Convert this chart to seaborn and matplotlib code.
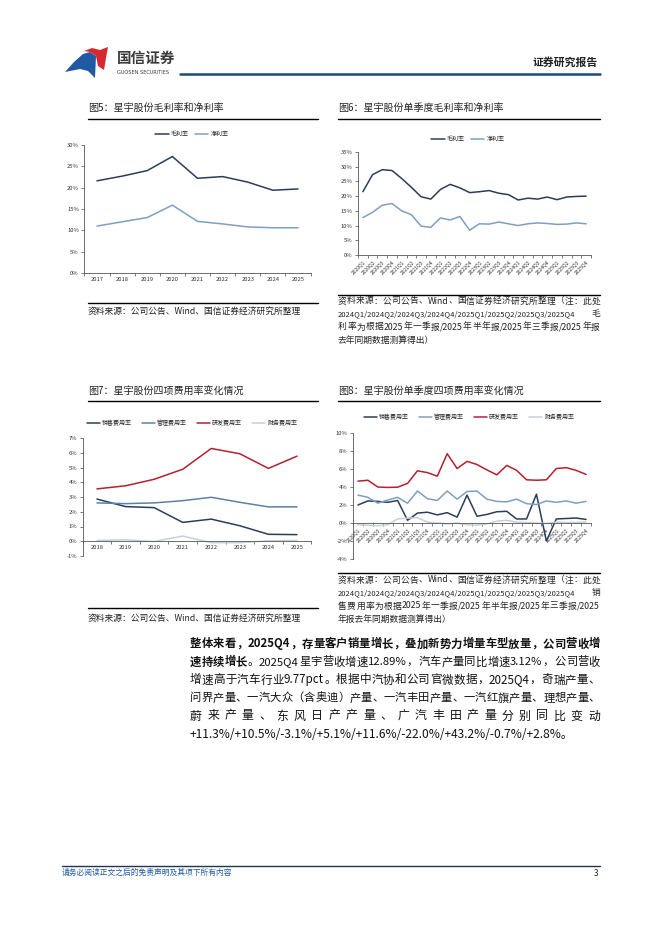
import numpy as np
import pandas as pd
import matplotlib
matplotlib.use('Agg')
import matplotlib.pyplot as plt
from matplotlib.lines import Line2D
from matplotlib.patches import Polygon
import seaborn as sns

# ---- data ----
years_a = ['2017', '2018', '2019', '2020', '2021', '2022', '2023', '2024', '2025']
gross_a = [21.6, 22.7, 24.0, 27.3, 22.2, 22.6, 21.3, 19.4, 19.7]
net_a = [11.0, 12.0, 13.0, 15.9, 12.1, 11.5, 10.8, 10.6, 10.6]

quarters = ['2020Q1', '2020Q2', '2020Q3', '2020Q4', '2021Q1', '2021Q2', '2021Q3', '2021Q4',
            '2022Q1', '2022Q2', '2022Q3', '2022Q4', '2023Q1', '2023Q2', '2023Q3', '2023Q4',
            '2024Q1', '2024Q2', '2024Q3', '2024Q4', '2025Q1', '2025Q2', '2025Q3', '2025Q4']
gross_q = [21.5, 27.3, 29.0, 28.7, 26.0, 23.0, 19.8, 19.0, 22.3, 24.0, 22.8, 21.2,
           21.5, 21.9, 21.0, 20.5, 18.7, 19.3, 19.0, 19.7, 18.8, 19.7, 19.9, 20.0]
net_q = [12.7, 14.5, 16.9, 17.5, 15.0, 13.7, 9.8, 9.4, 12.6, 11.9, 13.1, 8.4,
         10.6, 10.5, 11.2, 10.6, 10.0, 10.6, 10.9, 10.7, 10.4, 10.5, 10.9, 10.6]

years_e = ['2018', '2019', '2020', '2021', '2022', '2023', '2024', '2025']
sales_a = [2.86, 2.35, 2.28, 1.28, 1.50, 1.05, 0.47, 0.45]
admin_a = [2.60, 2.55, 2.60, 2.75, 2.98, 2.64, 2.33, 2.33]
rd_a = [3.55, 3.76, 4.20, 4.88, 6.29, 5.93, 4.94, 5.77]
fin_a = [0.05, 0.10, -0.02, 0.35, -0.10, -0.10, 0.03, 0.05]

sales_q = [2.0, 2.45, 2.4, 2.3, 2.5, 0.3, 1.1, 1.2, 0.9, 1.15, 0.65, 3.1,
           0.75, 0.95, 1.25, 1.3, 0.45, 0.45, 3.2, -2.0, 0.45, 0.5, 0.55, 0.4]
admin_q = [3.1, 2.85, 2.2, 2.55, 2.85, 2.2, 3.55, 2.7, 2.5, 3.55, 2.65, 3.5,
           3.55, 2.65, 2.4, 2.35, 2.65, 2.15, 2.05, 2.45, 2.3, 2.45, 2.2, 2.4]
rd_q = [4.65, 4.75, 4.0, 3.95, 3.98, 4.4, 5.8, 5.6, 5.2, 7.7, 6.05, 6.85,
        6.5, 5.9, 5.35, 6.4, 5.85, 4.8, 4.75, 4.8, 6.05, 6.15, 5.85, 5.4]
fin_q = [-0.2, -0.25, -0.3, -0.2, 0.45, 0.55, 0.6, 0.1, 0.0, -0.1, 0.0, -0.2,
         -0.25, -0.1, 0.2, 0.3, 0.1, 0.05, 0.0, -0.05, 0.1, 0.05, 0.05, 0.1]

NAVY = '#2c3d5b'
LIGHT = '#7f9fc2'
STEEL = '#5e80a9'
RED = '#b5202e'
GREY = '#c6d0da'

sns.set_theme(style='ticks')
plt.rcParams['font.family'] = ['Noto Sans CJK SC', 'DejaVu Sans']
plt.rcParams['axes.unicode_minus'] = False

W, H = 662, 936
fig = plt.figure(figsize=(W / 100, H / 100), dpi=100)
renderer = fig.canvas.get_renderer()


def rect(l, t, r, b):
    return [l / W, 1 - b / H, (r - l) / W, (b - t) / H]


def txt(x, y, s, **kw):
    kw.setdefault('va', 'center')
    return fig.text(x / W, 1 - y / H, s, **kw)


def hline(x0, x1, y, color='black', lw=1.0):
    fig.add_artist(Line2D([x0 / W, x1 / W], [1 - y / H] * 2,
                          transform=fig.transFigure, color=color, lw=lw))


def width_of(t):
    return t.get_window_extent(renderer).width


def fit(x0, x1, y, s, fs, **kw):
    # left aligned text scaled so that it spans x0..x1
    t = txt(x0, y, s, fontsize=fs, **kw)
    w = width_of(t)
    t.set_fontsize(fs * (x1 - x0) / w)
    return t


def justify(x0, x1, y, parts, fs, color='#111111'):
    # spread the tokens of a line evenly between x0 and x1 (CJK justified text)
    tokens = []
    for s, wt in parts:
        buf = ''
        for ch in s:
            if ord(ch) < 128 and ch != ' ':
                buf += ch
            else:
                if buf:
                    tokens.append((buf, wt))
                    buf = ''
                if ch != ' ':
                    tokens.append((ch, wt))
        if buf:
            tokens.append((buf, wt))
    texts = [txt(x0, y, tk, fontsize=fs, fontweight=wt, color=color) for tk, wt in tokens]
    widths = [width_of(t) for t in texts]
    total = sum(widths)
    if total > (x1 - x0) * 0.985:
        k = (x1 - x0) * 0.985 / total
        for t in texts:
            t.set_fontsize(fs * k)
        widths = [width_of(t) for t in texts]
        total = sum(widths)
    gap = (x1 - x0 - total) / (len(texts) - 1)
    x = x0
    for t, w in zip(texts, widths):
        t.set_x(x / W)
        x += w + gap


def style_axis(ax, n, labels, ylim, yticks, rot=False, zero_spine=False):
    if zero_spine:
        ax.spines['bottom'].set_position(('data', 0))
    ax.set_xlim(-0.5, n - 0.5)
    ax.set_ylim(*ylim)
    ax.set_yticks(yticks)
    ax.set_yticklabels([f'{v}%' for v in yticks], fontsize=4.2, color='#333333')
    ax.set_xticks(np.arange(n))
    if rot:
        ax.set_xticklabels(labels, fontsize=3.6, rotation=45, ha='right',
                           rotation_mode='anchor', color='#333333')
    else:
        ax.set_xticklabels(labels, fontsize=4.2, color='#333333')
    ax.set_xticks(np.arange(n + 1) - 0.5, minor=True)
    ax.tick_params(axis='x', which='major', length=0, pad=3)
    ax.tick_params(axis='x', which='minor', length=2, width=0.5, color='#444444')
    ax.tick_params(axis='y', length=2, width=0.5, color='#444444', pad=2)
    for s in ['top', 'right']:
        ax.spines[s].set_visible(False)
    for s in ['left', 'bottom']:
        ax.spines[s].set_linewidth(0.6)
        ax.spines[s].set_color('#555555')
    ax.set_xlabel('')
    ax.set_ylabel('')
    ax.set_facecolor('none')


def legend(ax, handles, labels, cx, cy, colsp=1.0):
    ax.legend(handles, labels, loc='center', bbox_to_anchor=(cx / W, 1 - cy / H),
              bbox_transform=fig.transFigure, ncol=len(labels), frameon=False,
              fontsize=4.3, handlelength=2.2, columnspacing=colsp, handletextpad=0.4)


# ---- header ----
lax = fig.add_axes(rect(60, 40, 115, 82))
lax.set_xlim(60, 115)
lax.set_ylim(82, 40)
lax.axis('off')
lax.add_patch(Polygon([(65, 72), (74, 62), (83, 54), (90, 52), (96, 56), (95, 78),
                       (88, 71), (80, 69)], closed=True, color='#1f5aa3', lw=0))
lax.add_patch(Polygon([(84, 51), (92, 48), (100, 50), (108, 47), (106, 58), (104, 70),
                       (98, 66), (96, 56), (90, 52)], closed=True, color='#d62a30', lw=0))
txt(117, 58, '国信证券', fontsize=10.5, fontweight='bold', color='#3a3a3a')
txt(117, 72, 'GUOSEN SECURITIES', fontsize=3.6, color='#3a3a3a', family='DejaVu Sans')
txt(598, 62, '证券研究报告', fontsize=7.8, fontweight='bold', color='#222222', ha='right')
hline(180, 600, 74, color='#1d4a7e', lw=1.8)

# ---- titles and rules ----
txt(88, 108, '图5：星宇股份毛利率和净利率', fontsize=7.2, color='#222222')
txt(338, 108, '图6：星宇股份单季度毛利率和净利率', fontsize=7.2, color='#222222')
hline(88, 318, 119, lw=1.0)
hline(338, 600, 119, lw=1.0)
txt(88, 392, '图7：星宇股份四项费用率变化情况', fontsize=7.2, color='#222222')
txt(338, 392, '图8：星宇股份单季度四项费用率变化情况', fontsize=7.2, color='#222222')
hline(88, 318, 401, lw=1.0)
hline(338, 600, 401, lw=1.0)

hline(88, 318, 303, lw=1.0)
hline(338, 600, 295, lw=1.0)
hline(88, 318, 608, lw=1.0)
hline(338, 600, 573, lw=1.0)

# ---- chart 5 ----
ax5 = fig.add_axes(rect(84.4, 145, 310.6, 273))
x5 = np.arange(len(years_a))
sns.lineplot(x=x5, y=gross_a, ax=ax5, color=NAVY, lw=1.1)
sns.lineplot(x=x5, y=net_a, ax=ax5, color=LIGHT, lw=1.1)
style_axis(ax5, len(years_a), years_a, (0, 30), [0, 5, 10, 15, 20, 25, 30])
legend(ax5, [Line2D([], [], color=NAVY, lw=1.1), Line2D([], [], color=LIGHT, lw=1.1)],
       ['毛利率', '净利率'], 192, 134)

# ---- chart 6 ----
ax6 = fig.add_axes(rect(358, 152, 591, 255))
x6 = np.arange(len(quarters))
sns.lineplot(x=x6, y=gross_q, ax=ax6, color=NAVY, lw=1.1)
sns.lineplot(x=x6, y=net_q, ax=ax6, color=LIGHT, lw=1.1)
style_axis(ax6, len(quarters), quarters, (0, 35), [0, 5, 10, 15, 20, 25, 30, 35], rot=True)
legend(ax6, [Line2D([], [], color=NAVY, lw=1.1), Line2D([], [], color=LIGHT, lw=1.1)],
       ['毛利率', '净利率'], 468, 139)

# ---- chart 7 ----
ax7 = fig.add_axes(rect(82.7, 438, 311.3, 556))
x7 = np.arange(len(years_e))
sns.lineplot(x=x7, y=sales_a, ax=ax7, color=NAVY, lw=1.1)
sns.lineplot(x=x7, y=admin_a, ax=ax7, color=STEEL, lw=1.1)
sns.lineplot(x=x7, y=rd_a, ax=ax7, color=RED, lw=1.1)
sns.lineplot(x=x7, y=fin_a, ax=ax7, color=GREY, lw=1.1)
style_axis(ax7, len(years_e), years_e, (-1, 7), list(range(-1, 8)), zero_spine=True)
legend(ax7, [Line2D([], [], color=c, lw=1.1) for c in [NAVY, STEEL, RED, GREY]],
       ['销售费用率', '管理费用率', '研发费用率', '财务费用率'], 192, 423, colsp=1.6)

# ---- chart 8 ----
ax8 = fig.add_axes(rect(353, 433, 591, 559))
x8 = np.arange(len(quarters))
sns.lineplot(x=x8, y=sales_q, ax=ax8, color=NAVY, lw=1.1)
sns.lineplot(x=x8, y=admin_q, ax=ax8, color=LIGHT, lw=1.1)
sns.lineplot(x=x8, y=rd_q, ax=ax8, color=RED, lw=1.1)
sns.lineplot(x=x8, y=fin_q, ax=ax8, color=GREY, lw=1.1)
style_axis(ax8, len(quarters), quarters, (-4, 10), [-4, -2, 0, 2, 4, 6, 8, 10], rot=True, zero_spine=True)
legend(ax8, [Line2D([], [], color=c, lw=1.1) for c in [NAVY, LIGHT, RED, GREY]],
       ['销售费用率', '管理费用率', '研发费用率', '财务费用率'], 469, 417, colsp=1.6)

# ---- sources ----
SRC_FS = 6.3
SRC_C = '#222222'
txt(88, 311, '资料来源：公司公告、Wind、国信证券经济研究所整理', fontsize=SRC_FS, color=SRC_C)
qs = '2024Q1/2024Q2/2024Q3/2024Q4/2025Q1/2025Q2/2025Q3/2025Q4'
for top, tail, l3, l4 in [(301, '毛', '利率为根据 2025 年一季报/2025 年半年报/2025 年三季报/2025 年报',
                           '去年同期数据测算得出）'),
                          (580, '销', '售费用率为根据 2025 年一季报/2025 年半年报/2025 年三季报/2025',
                           '年报去年同期数据测算得出）')]:
    justify(338, 600, top, [('资料来源：公司公告、Wind、国信证券经济研究所整理（注：此处', 'normal')],
            SRC_FS, SRC_C)
    fit(338, 574, top + 13, qs, SRC_FS, color=SRC_C)
    txt(600, top + 13, tail, ha='right', fontsize=SRC_FS, color=SRC_C)
    justify(338, 600, top + 26, [(l3, 'normal')], SRC_FS, SRC_C)
    txt(338, top + 39, l4, fontsize=SRC_FS, color=SRC_C)
txt(88, 618, '资料来源：公司公告、Wind、国信证券经济研究所整理', fontsize=SRC_FS, color=SRC_C)

# ---- body paragraph ----
BFS = 8.6
justify(190, 600, 644, [('整体来看，2025Q4，存量客户销量增长，叠加新势力增量车型放量，公司营收增', 'bold')], BFS)
justify(190, 600, 662, [('速持续增长', 'bold'),
                        ('。2025Q4 星宇营收增速 12.89%，汽车产量同比增速 3.12%，公司营收', 'normal')], BFS)
justify(190, 600, 680, [('增速高于汽车行业 9.77pct。根据中汽协和公司官微数据，2025Q4，奇瑞产量、', 'normal')], BFS)
justify(190, 600, 698, [('问界产量、一汽大众（含奥迪）产量、一汽丰田产量、一汽红旗产量、理想产量、', 'normal')], BFS)
justify(190, 600, 716, [('蔚来产量、东风日产产量、广汽丰田产量分别同比变动', 'normal')], BFS)
txt(190, 734, '+11.3%/+10.5%/-3.1%/+5.1%/+11.6%/-22.0%/+43.2%/-0.7%/+2.8%。',
    fontsize=BFS, color='#111111')

# ---- footer ----
hline(62, 600, 866, color='#1d3552', lw=1.0)
txt(62, 873, '请务必阅读正文之后的免责声明及其项下所有内容', fontsize=5.6,
    color='#1f56a6', style='italic')
txt(598, 873, '3', fontsize=6, color='#222222', ha='right')

fig.savefig('out.png', dpi=100, facecolor='white')
